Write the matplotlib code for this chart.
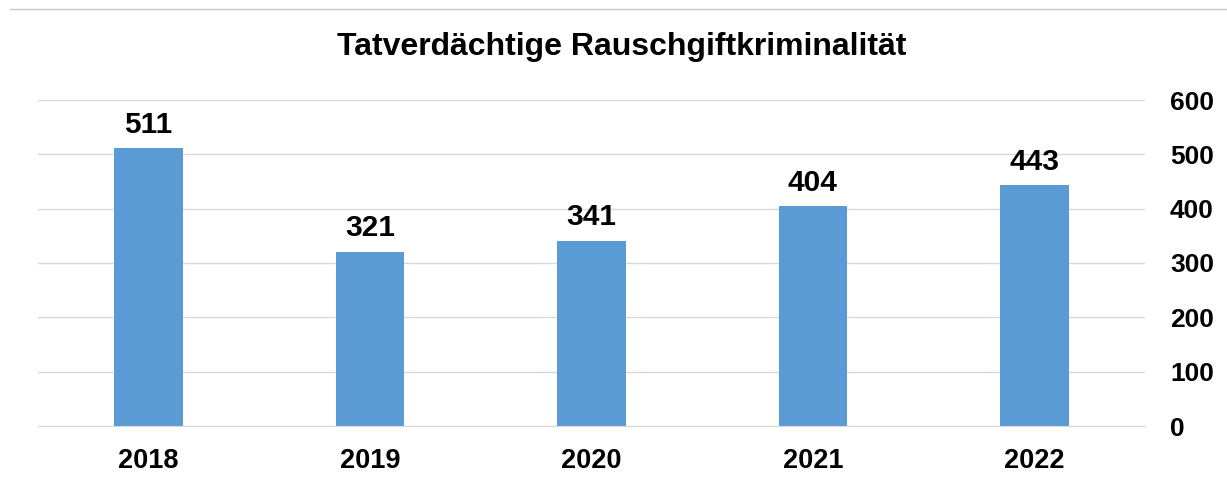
import matplotlib.pyplot as plt
from matplotlib.lines import Line2D

# -> Data
years = ['2018', '2019', '2020', '2021', '2022']
suspects = [511, 321, 341, 404, 443]
y_ticks = [0, 100, 200, 300, 400, 500, 600]

plt.rcParams['font.family'] = ['Liberation Sans', 'DejaVu Sans']
plt.rcParams['font.weight'] = 'bold'

fig = plt.figure(figsize=(12.27, 4.83), dpi=100)
ax = fig.add_axes([38 / 1227, 1 - 426 / 483, 1107 / 1227, 326 / 483])

bars = ax.bar(range(len(years)), suspects, width=0.31, color='#5B9BD5', zorder=2)
for rect, val in zip(bars, suspects):
    ax.annotate(str(val), (rect.get_x() + rect.get_width() / 2, val),
                xytext=(0, 7), textcoords='offset points',
                ha='center', va='bottom', fontsize=21.5, fontweight='bold')

ax.set_xlim(-0.5, len(years) - 0.5)
ax.set_ylim(0, 600)
ax.set_xticks(range(len(years)))
ax.set_xticklabels(years, fontsize=19.5, fontweight='bold')
ax.set_yticks(y_ticks)
ax.set_yticklabels([str(t) for t in y_ticks], fontsize=19, fontweight='bold')
ax.yaxis.tick_right()
ax.tick_params(axis='both', length=0)
ax.tick_params(axis='x', pad=16)
ax.tick_params(axis='y', pad=18)

ax.grid(axis='y', color='#d9d9d9', linewidth=1, zorder=0)
for s in ['top', 'left', 'right']:
    ax.spines[s].set_visible(False)
ax.spines['bottom'].set_color('#d9d9d9')

fig.text(0.5 + 8 / 1227, 1 - 47 / 483, 'Tatverdächtige Rauschgiftkriminalität',
         ha='center', va='center', fontsize=23, fontweight='bold')

# thin line at the top of the picture
fig.add_artist(Line2D([10 / 1227, 1], [1 - 9 / 483, 1 - 9 / 483],
                      color='#c8c8c8', linewidth=1))

fig.savefig('out.png', dpi=100)
